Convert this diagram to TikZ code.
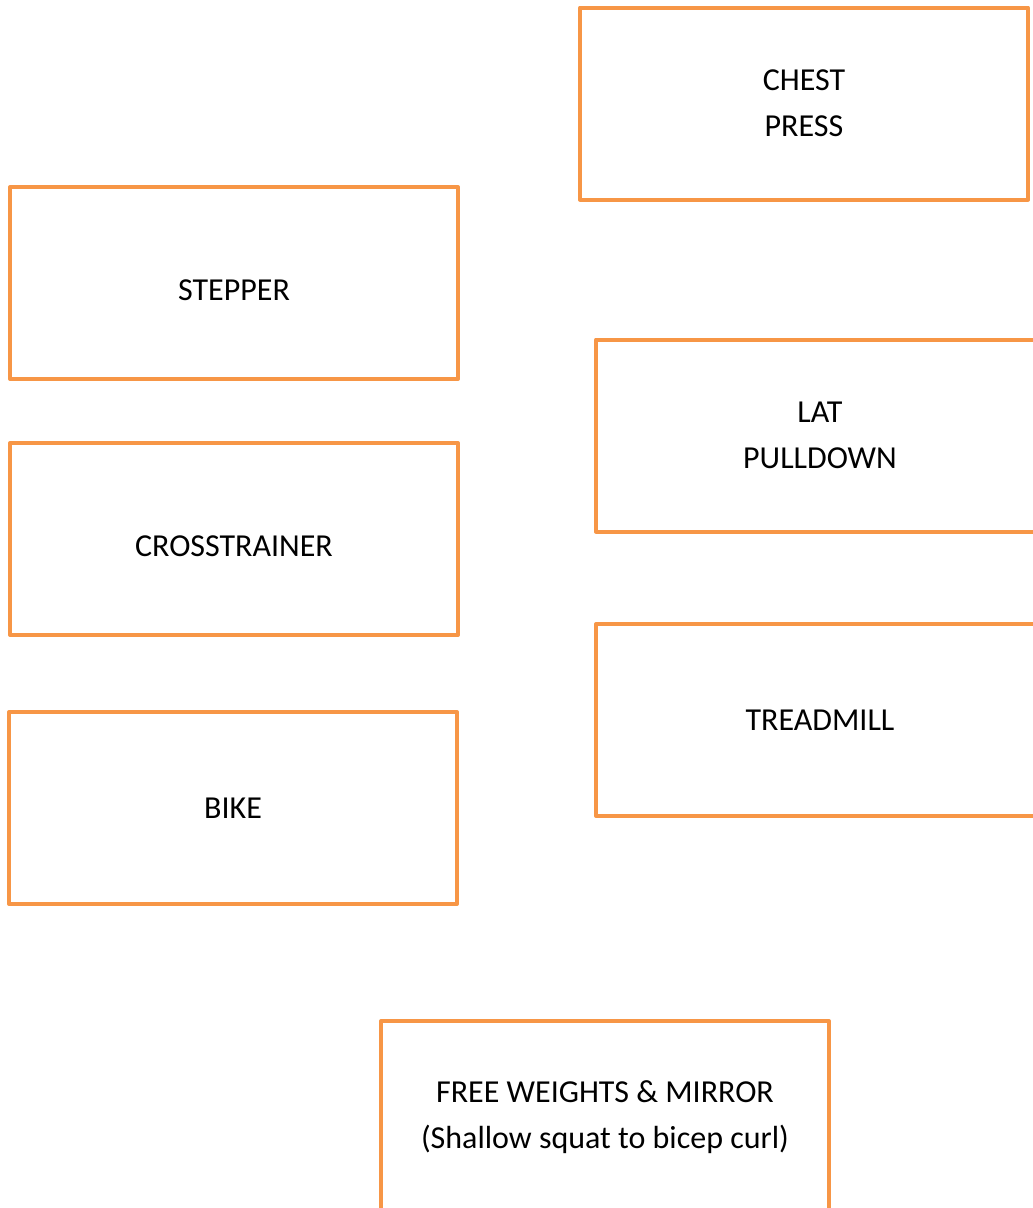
\documentclass[tikz,border=0pt]{standalone}
\usepackage{fontspec}
\setmainfont{Carlito}
\definecolor{boxorange}{HTML}{F79646}
\newcommand{\lowertext}[1]{\raisebox{-7pt}[\height][\depth]{#1}}
\begin{document}
\begin{tikzpicture}[x=1pt,y=-1pt,
  station/.style={draw=boxorange, line width=4pt, line join=round,
    minimum width=448pt, minimum height=192pt, inner sep=0pt,
    align=center, font=\fontsize{32}{46}\selectfont, text=black}]
\useasboundingbox (0,0) rectangle (1033,1208);
\node[station] (chest) at (804,103.5) {CHEST\\PRESS};
\node[station] (stepper) at (234,283) {\lowertext{STEPPER}};
\node[station] (cross) at (234,539) {\lowertext{CROSSTRAINER}};
\node[station] (bike) at (233,808) {BIKE};
\node[station] (lat) at (820,435.5) {LAT\\PULLDOWN};
\node[station] (tread) at (820,720) {TREADMILL};
\node[station] (free) at (605,1117) {FREE WEIGHTS \& MIRROR\\(Shallow squat to bicep curl)};
\end{tikzpicture}
\end{document}
